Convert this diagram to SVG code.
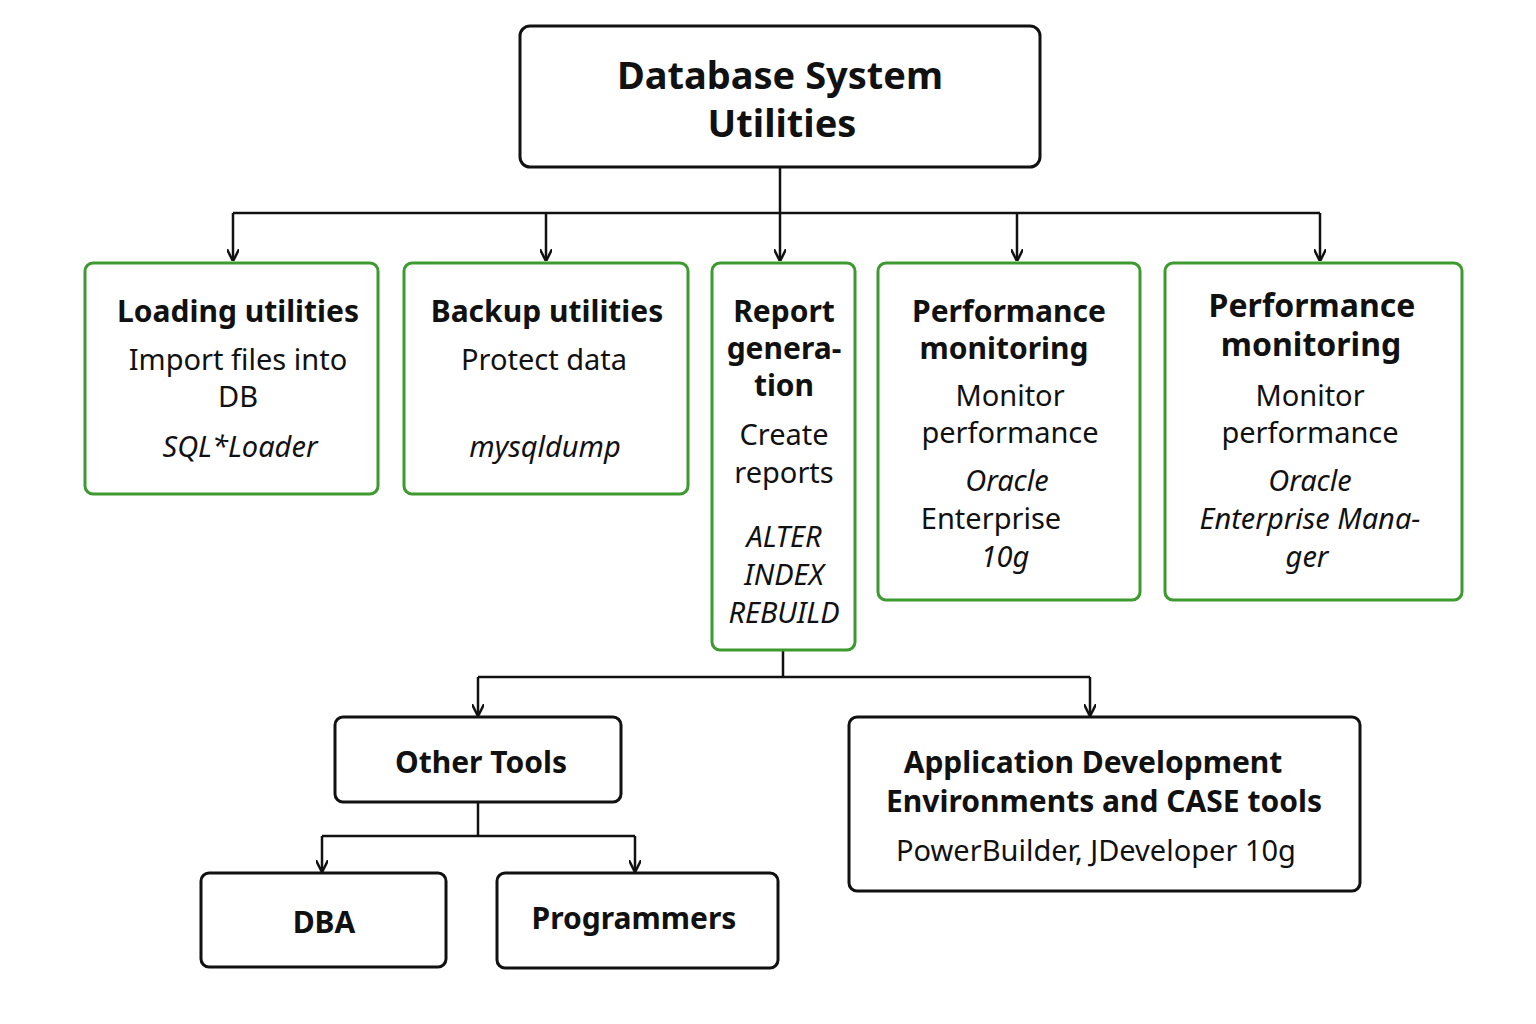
<svg xmlns="http://www.w3.org/2000/svg" width="1536" height="1024" viewBox="0 0 1536 1024">
<style>
text{font-family:"Noto Sans","DejaVu Sans",sans-serif;fill:#111;text-anchor:middle}
.b{font-weight:bold;font-size:30px}
.r{font-size:29px}
.i{font-size:29px;font-style:italic}
.t{font-weight:bold;font-size:38px}
.bk{fill:#fff;stroke:#111;stroke-width:3}
.gr{fill:#fff;stroke:#3c9a2e;stroke-width:3}
.c{fill:none;stroke:#111;stroke-width:2.5}
</style>
<defs><marker id="a" viewBox="0 0 10 10" refX="9" refY="5" markerWidth="5" markerHeight="5" orient="auto"><path d="M0,0 L10,5 L0,10" fill="none" stroke="#111" stroke-width="2"/></marker></defs>
<g id="connectors">
<path class="c" d="M780,167 V213 M233,213 H1320"/>
<path class="c" marker-end="url(#a)" d="M233,213 V260"/>
<path class="c" marker-end="url(#a)" d="M546,213 V260"/>
<path class="c" marker-end="url(#a)" d="M780,213 V260"/>
<path class="c" marker-end="url(#a)" d="M1017,213 V260"/>
<path class="c" marker-end="url(#a)" d="M1320,213 V260"/>
<path class="c" d="M783,650 V677 M478,677 H1090"/>
<path class="c" marker-end="url(#a)" d="M478,677 V715"/>
<path class="c" marker-end="url(#a)" d="M1090,677 V715"/>
<path class="c" d="M478,802 V836 M322,836 H635"/>
<path class="c" marker-end="url(#a)" d="M322,836 V871"/>
<path class="c" marker-end="url(#a)" d="M635,836 V871"/>
</g>
<g id="root"><rect class="bk" x="520" y="26" width="520" height="141" rx="10"/>
<text class="t" x="780" y="89">Database System</text><text class="t" x="782" y="137">Utilities</text></g>
<g id="loading"><rect class="gr" x="85" y="263" width="293" height="231" rx="8"/>
<text class="b" x="238" y="322">Loading utilities</text><text class="r" x="238" y="370">Import files into</text><text class="r" x="238" y="407">DB</text><text class="i" x="240" y="457">SQL*Loader</text></g>
<g id="backup"><rect class="gr" x="404" y="263" width="284" height="231" rx="8"/>
<text class="b" x="547" y="322">Backup utilities</text><text class="r" x="544" y="370">Protect data</text><text class="i" x="545" y="457">mysqldump</text></g>
<g id="report"><rect class="gr" x="712" y="263" width="143" height="387" rx="8"/>
<text class="b" x="784" y="322">Report</text><text class="b" x="784" y="359">genera-</text><text class="b" x="784" y="396">tion</text>
<text class="r" x="784" y="445">Create</text><text class="r" x="784" y="483">reports</text>
<text class="i" x="784" y="547">ALTER</text><text class="i" x="784" y="585">INDEX</text><text class="i" x="784" y="623">REBUILD</text></g>
<g id="perf1"><rect class="gr" x="878" y="263" width="262" height="337" rx="8"/>
<text class="b" x="1009" y="322">Performance</text><text class="b" x="1004" y="359">monitoring</text>
<text class="r" x="1010" y="406">Monitor</text><text class="r" x="1010" y="443">performance</text>
<text class="i" x="1007" y="491">Oracle</text><text class="r" x="991" y="529">Enterprise</text><text class="i" x="1005" y="567">10g</text></g>
<g id="perf2"><rect class="gr" x="1165" y="263" width="297" height="337" rx="8"/>
<text class="b" style="font-size:32px" x="1312" y="317">Performance</text><text class="b" style="font-size:32px" x="1311" y="356">monitoring</text>
<text class="r" x="1310" y="406">Monitor</text><text class="r" x="1310" y="443">performance</text>
<text class="i" x="1310" y="491">Oracle</text><text class="i" x="1310" y="529">Enterprise Mana-</text><text class="i" x="1307" y="567">ger</text></g>
<g id="other"><rect class="bk" x="335" y="717" width="286" height="85" rx="8"/><text class="b" x="481" y="773">Other Tools</text></g>
<g id="appdev"><rect class="bk" x="849" y="717" width="511" height="174" rx="8"/>
<text class="b" x="1093" y="773">Application Development</text><text class="b" x="1104" y="812">Environments and CASE tools</text>
<text class="r" x="1096" y="861">PowerBuilder, JDeveloper 10g</text></g>
<g id="dba"><rect class="bk" x="201" y="873" width="245" height="94" rx="8"/><text class="b" x="324" y="933">DBA</text></g>
<g id="prog"><rect class="bk" x="497" y="873" width="281" height="95" rx="8"/><text class="b" x="634" y="929">Programmers</text></g>
</svg>
